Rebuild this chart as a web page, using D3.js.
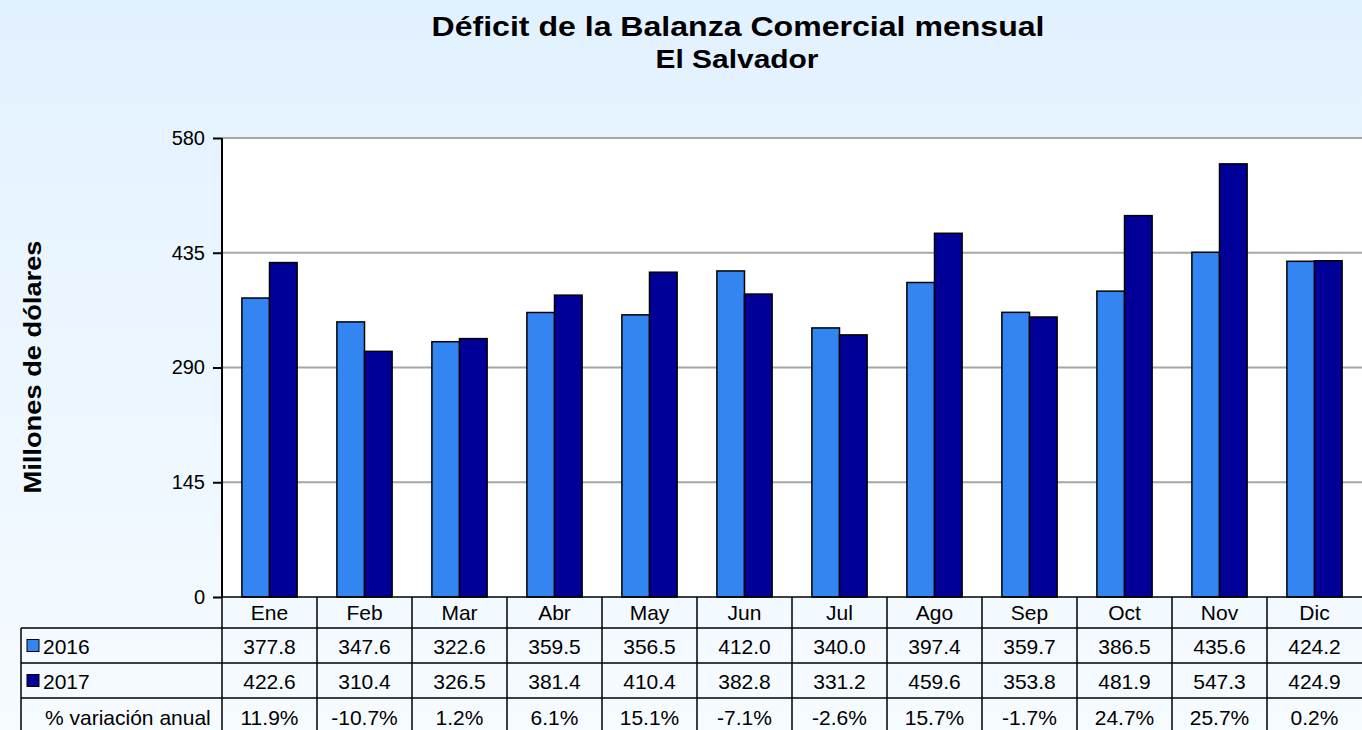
<!DOCTYPE html>
<html><head><meta charset="utf-8">
<script src="https://cdn.jsdelivr.net/npm/d3@7"></script>
<style>html,body{margin:0;padding:0;overflow:hidden}</style>
</head><body>
<svg id="c" width="1362" height="730"></svg>
<script>
const months = ["Ene","Feb","Mar","Abr","May","Jun","Jul","Ago","Sep","Oct","Nov","Dic"];
const values2016 = [377.8,347.6,322.6,359.5,356.5,412.0,340.0,397.4,359.7,386.5,435.6,424.2];
const values2017 = [422.6,310.4,326.5,381.4,410.4,382.8,331.2,459.6,353.8,481.9,547.3,424.9];
const variation = ["11.9%","-10.7%","1.2%","6.1%","15.1%","-7.1%","-2.6%","15.7%","-1.7%","24.7%","25.7%","0.2%"];
const seriesNames = ["2016","2017"];
const yTicks = [0,145,290,435,580];

const W=1362,H=730;
const svg=d3.select("#c");
const font="Liberation Sans, Arial, sans-serif";
const defs=svg.append("defs");
const g=defs.append("linearGradient").attr("id","bg").attr("x1",0).attr("y1",0).attr("x2",0).attr("y2",1);
g.append("stop").attr("offset","0%").attr("stop-color","#e2f1ff");
g.append("stop").attr("offset","100%").attr("stop-color","#f6fbff");
svg.append("rect").attr("width",W).attr("height",H).attr("fill","url(#bg)");

const colors=["#3385f2","#000099"];
const L=222,R=1362,T=138,B=597;
const x=d3.scaleBand().domain(months).range([L,R]);
const xs=d3.scaleBand().domain(seriesNames).range([0,x.bandwidth()]).paddingOuter(0.72).paddingInner(0);
const y=d3.scaleLinear().domain([0,580]).range([B,T]);

svg.append("rect").attr("x",L).attr("y",T).attr("width",R-L).attr("height",B-T).attr("fill","#fff");

// gridlines
svg.append("g").selectAll("line").data(yTicks.filter(d=>d>0)).join("line")
 .attr("x1",L).attr("x2",R).attr("y1",d=>y(d)).attr("y2",d=>y(d))
 .attr("stroke","#a6a6a6").attr("stroke-width",2);

// bars
const data=months.map((m,i)=>({m,v:[values2016[i],values2017[i]]}));
const grp=svg.append("g").selectAll("g").data(data).join("g").attr("transform",d=>`translate(${x(d.m)},0)`);
grp.selectAll("rect").data(d=>d.v.map((v,j)=>({v,s:seriesNames[j],j}))).join("rect")
 .attr("x",d=>xs(d.s)).attr("width",xs.bandwidth())
 .attr("y",d=>y(d.v)).attr("height",d=>B-y(d.v))
 .attr("fill",d=>colors[d.j]).attr("stroke","#000").attr("stroke-width",1.5);

// y axis
const ya=svg.append("g").attr("transform",`translate(${L},0)`)
 .call(d3.axisLeft(y).tickValues(yTicks).tickSize(9).tickPadding(8).tickFormat(d3.format("d")));
ya.select(".domain").attr("stroke","#000").attr("stroke-width",2).attr("d",`M0,${T}V${B}`);
ya.selectAll(".tick line").attr("stroke","#000").attr("stroke-width",2);
ya.selectAll("text").attr("font-family",font).attr("font-size",20).attr("fill","#000");

// table
const rowY=[597,628,663,698,735];
const tbl=svg.append("g");
const lineAttr=s=>s.attr("stroke","#000").attr("stroke-width",1.5);
lineAttr(tbl.append("line").attr("x1",L).attr("x2",R).attr("y1",B).attr("y2",B));
[1,2,3].forEach(k=>lineAttr(tbl.append("line").attr("x1",21).attr("x2",R).attr("y1",rowY[k]).attr("y2",rowY[k])));
lineAttr(tbl.append("line").attr("x1",21).attr("x2",21).attr("y1",rowY[1]).attr("y2",H));
months.forEach(m=>lineAttr(tbl.append("line").attr("x1",x(m)).attr("x2",x(m)).attr("y1",B).attr("y2",H)));
tbl.selectAll(".mh").data(months).join("text").attr("x",d=>x(d)+x.bandwidth()/2).attr("y",620)
 .attr("text-anchor","middle").attr("font-family",font).attr("font-size",21).text(d=>d);
const rows=[values2016.map(v=>v.toFixed(1)),values2017.map(v=>v.toFixed(1)),variation];
rows.forEach((r,k)=>{
 tbl.append("g").selectAll("text").data(r).join("text")
  .attr("x",(d,i)=>x(months[i])+x.bandwidth()/2).attr("y",(rowY[k+1]+rowY[k+2])/2+8)
  .attr("text-anchor","middle").attr("font-family",font).attr("font-size",21).text(d=>d);
});
seriesNames.forEach((s,k)=>{
 const cy=(rowY[k+1]+rowY[k+2])/2;
 tbl.append("rect").attr("x",27).attr("y",cy-6).attr("width",12).attr("height",12).attr("fill",colors[k]).attr("stroke","#000").attr("stroke-width",1);
 tbl.append("text").attr("x",43).attr("y",cy+8).attr("font-family",font).attr("font-size",21).text(s);
});
tbl.append("text").attr("x",45).attr("y",725).attr("font-family",font).attr("font-size",21).text("% variación anual");

// titles
svg.append("text").attr("x",738).attr("y",36).attr("text-anchor","middle").attr("font-family",font).attr("font-weight","bold").attr("font-size",28)
 .attr("textLength",613).attr("lengthAdjust","spacingAndGlyphs").text("Déficit de la Balanza Comercial mensual");
svg.append("text").attr("x",737).attr("y",68).attr("text-anchor","middle").attr("font-family",font).attr("font-weight","bold").attr("font-size",25)
 .attr("textLength",163).attr("lengthAdjust","spacingAndGlyphs").text("El Salvador");
svg.append("text").attr("transform","translate(41,367) rotate(-90)").attr("text-anchor","middle").attr("font-family",font).attr("font-weight","bold").attr("font-size",23)
 .attr("textLength",253).attr("lengthAdjust","spacingAndGlyphs").text("Millones de dólares");
</script>
</body></html>
